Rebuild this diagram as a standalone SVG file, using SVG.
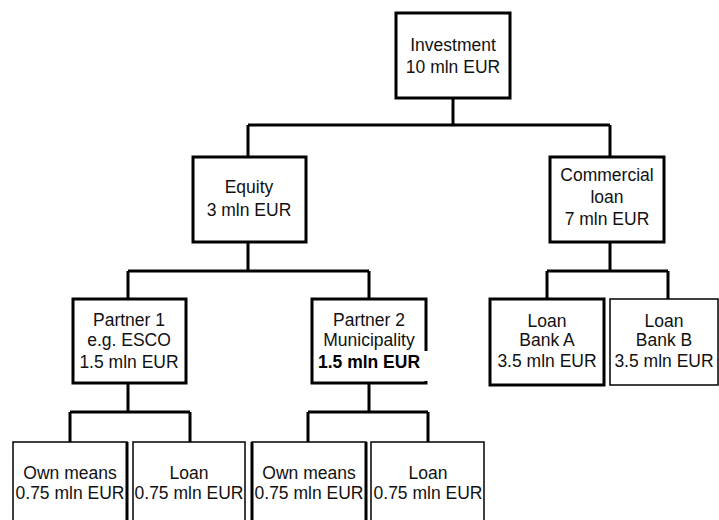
<svg xmlns="http://www.w3.org/2000/svg" width="719" height="520" viewBox="0 0 719 520">
<style>
.box{fill:#fff;stroke:#000;stroke-width:3}
.thin{fill:#fff;stroke:#000;stroke-width:1.5}
.edge{stroke:#000;stroke-width:3;fill:none}
text{font-family:"Liberation Sans",Arial,sans-serif;font-size:17.5px;fill:#111;text-anchor:middle}
.b{font-weight:bold;fill:#000}
</style>
<rect width="719" height="520" fill="#fff"/>
<g id="connectors" class="edge">
<path d="M453,98V125M248,125H610M248,125V157M610,125V157"/>
<path d="M248,242V271M128,271H369M128,271V299M369,271V299"/>
<path d="M610,242V271M547,271H668M547,271V299M668,271V299"/>
<path d="M128,383V412M70,412H190M70,412V442M190,412V442"/>
<path d="M369,383V412M308,412H428M308,412V442M428,412V442"/>
</g>
<g id="investment">
<rect class="box" x="396" y="13" width="114" height="85"/>
<text x="453" y="51">Investment</text>
<text x="453" y="73">10 mln EUR</text>
</g>
<g id="equity">
<rect class="box" x="193" y="157" width="113" height="85"/>
<text x="249" y="193">Equity</text>
<text x="249" y="216">3 mln EUR</text>
</g>
<g id="commercial-loan">
<rect class="box" x="550" y="157" width="114" height="85"/>
<text x="607" y="181">Commercial</text>
<text x="607" y="203">loan</text>
<text x="607" y="225">7 mln EUR</text>
</g>
<g id="partner1">
<rect class="box" x="73" y="299" width="113" height="84"/>
<text x="129" y="326">Partner 1</text>
<text x="129" y="346">e.g. ESCO</text>
<text x="129" y="368">1.5 mln EUR</text>
</g>
<g id="partner2">
<rect class="box" x="312" y="299" width="114" height="84"/>
<rect x="420" y="351" width="10" height="30" fill="#fff"/>
<text x="369" y="326">Partner 2</text>
<text x="369" y="346">Municipality</text>
<text class="b" x="369" y="368">1.5 mln EUR</text>
</g>
<g id="loan-bank-a">
<rect class="box" x="490" y="299" width="114" height="86"/>
<text x="547" y="327">Loan</text>
<text x="547" y="346">Bank A</text>
<text x="547" y="367">3.5 mln EUR</text>
</g>
<g id="loan-bank-b">
<rect class="thin" x="610" y="299" width="108" height="86" stroke-width="2"/>
<text x="664" y="327">Loan</text>
<text x="664" y="346">Bank B</text>
<text x="664" y="367">3.5 mln EUR</text>
</g>
<g id="own-means-1">
<rect class="thin" x="13" y="442" width="114" height="90"/>
<path class="edge" d="M127,442V520"/>
<text x="70" y="479">Own means</text>
<text x="70" y="499">0.75 mln EUR</text>
</g>
<g id="loan-1">
<rect class="thin" x="133" y="442" width="112" height="90"/>
<text x="189" y="479">Loan</text>
<text x="189" y="499">0.75 mln EUR</text>
</g>
<g id="own-means-2">
<rect class="thin" x="252" y="442" width="114" height="90"/>
<path class="edge" d="M252,442V520M366,442V520"/>
<text x="309" y="479">Own means</text>
<text x="309" y="499">0.75 mln EUR</text>
</g>
<g id="loan-2">
<rect class="thin" x="371" y="442" width="113" height="90"/>
<text x="428" y="479">Loan</text>
<text x="428" y="499">0.75 mln EUR</text>
</g>
</svg>
